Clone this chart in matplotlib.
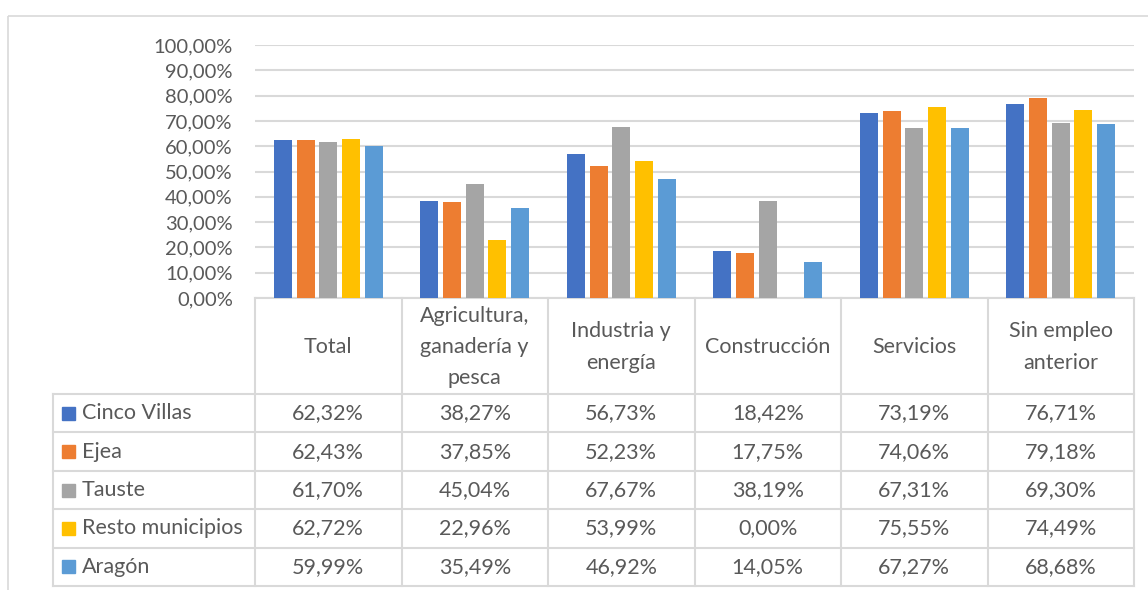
import numpy as np
import matplotlib
matplotlib.use("Agg")
import matplotlib.pyplot as plt
from matplotlib.patches import Rectangle

# Chart data
categories = ["Total", "Agricultura,\nganadería y\npesca", "Industria y\nenergía",
              "Construcción", "Servicios", "Sin empleo\nanterior"]
series_names = ["Cinco Villas", "Ejea", "Tauste", "Resto municipios", "Aragón"]
cinco_villas = [62.32, 38.27, 56.73, 18.42, 73.19, 76.71]
ejea = [62.43, 37.85, 52.23, 17.75, 74.06, 79.18]
tauste = [61.70, 45.04, 67.67, 38.19, 67.31, 69.30]
resto = [62.72, 22.96, 53.99, 0.00, 75.55, 74.49]
aragon = [59.99, 35.49, 46.92, 14.05, 67.27, 68.68]
yticks = [0, 10, 20, 30, 40, 50, 60, 70, 80, 90, 100]

series = [cinco_villas, ejea, tauste, resto, aragon]
colors = ["#4472C4", "#ED7D31", "#A5A5A5", "#FFC000", "#5B9BD5"]

plt.rcParams['font.family'] = ['Lato', 'DejaVu Sans']
text_color = "#595959"
line_color = "#D9D9D9"
fs_tick = 14.5
fs = 15.5

W, H = 1148, 590
fig = plt.figure(figsize=(W / 100, H / 100), dpi=100)

# overlay axes in pixel coordinates for the table and border
ov = fig.add_axes([0, 0, 1, 1])
ov.set_xlim(0, W)
ov.set_ylim(H, 0)
ov.axis("off")

# plot area
x0, x1 = 255, 1134
y_top, y_bot = 45, 298
ax = fig.add_axes([x0 / W, 1 - y_bot / H, (x1 - x0) / W, (y_bot - y_top) / H])
ax.set_xlim(-0.5, len(categories) - 0.5)
ax.set_ylim(0, 100)
for s in ax.spines.values():
    s.set_visible(False)
ax.set_xticks([])
ax.set_yticks(yticks)
ax.set_yticklabels([f"{v:.2f}%".replace(".", ",") for v in yticks],
                   color=text_color, fontsize=fs_tick)
ax.tick_params(axis="y", length=0, pad=16)
ax.yaxis.grid(True, color=line_color, linewidth=1.5)
ax.set_axisbelow(True)
ax.patch.set_alpha(0)

x = np.arange(len(categories))
step = 0.155
width = 0.123
for i, (vals, c) in enumerate(zip(series, colors)):
    ax.bar(x + (i - 2) * step, vals, width=width, color=c, zorder=3)

# outer chart border
ov.add_patch(Rectangle((8, 16), 1200, 700, fill=False, edgecolor=line_color, linewidth=1.2))

# data table
col_edges = np.linspace(x0, x1, len(categories) + 1)
header_bot = 394
row_h = 38.4
n_rows = len(series_names)
row_edges = header_bot + row_h * np.arange(n_rows + 1)
tab_left = 53
lw = 1.5

ov.plot([x0, x1], [y_bot, y_bot], color=line_color, lw=lw)
for y in row_edges:
    ov.plot([tab_left, x1], [y, y], color=line_color, lw=lw)
for xe in col_edges:
    ov.plot([xe, xe], [y_bot, row_edges[-1]], color=line_color, lw=lw)
ov.plot([tab_left, tab_left], [header_bot, row_edges[-1]], color=line_color, lw=lw)

for j, cat in enumerate(categories):
    cx = (col_edges[j] + col_edges[j + 1]) / 2
    ov.text(cx, (y_bot + header_bot) / 2 + 1, cat, ha="center", va="center",
            fontsize=fs, color=text_color, linespacing=1.7)

for i, (name, vals, c) in enumerate(zip(series_names, series, colors)):
    cy = (row_edges[i] + row_edges[i + 1]) / 2
    ov.add_patch(Rectangle((62, cy - 6.5), 13, 13, color=c))
    ov.text(82, cy, name, ha="left", va="center", fontsize=fs, color=text_color)
    for j, v in enumerate(vals):
        cx = (col_edges[j] + col_edges[j + 1]) / 2
        ov.text(cx, cy, f"{v:.2f}%".replace(".", ","), ha="center", va="center",
                fontsize=fs, color=text_color)

fig.savefig("out.png", dpi=100)
